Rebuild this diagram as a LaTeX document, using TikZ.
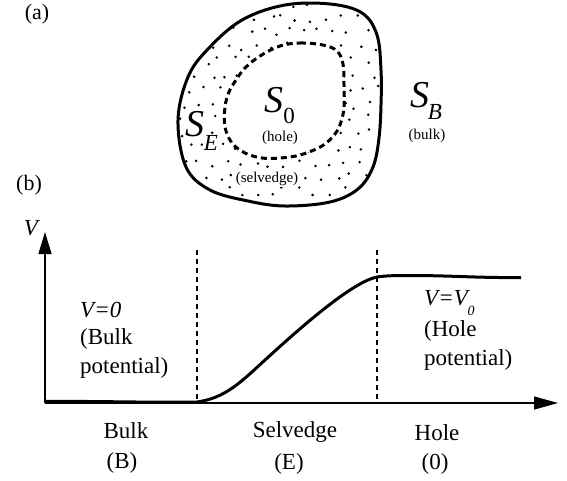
\documentclass[tikz,border=0pt]{standalone}
\usepackage{fontspec}
\setmainfont{Liberation Serif}
\usetikzlibrary{arrows.meta}
\tikzset{
  lbl/.style={inner sep=0pt,font=\fontsize{23}{28}\selectfont},
  small/.style={inner sep=1pt,font=\fontsize{15}{18}\selectfont},
  bigS/.style={inner sep=0pt,font=\fontsize{38}{40}\selectfont\itshape},
  subs/.style={inner sep=0pt,font=\fontsize{23}{26}\selectfont},
  thickline/.style={line width=3pt,line join=round},
  axisline/.style={line width=1.3pt,-{Triangle[length=22pt,width=13pt]}},
  vdash/.style={line width=1.2pt,dash pattern=on 5pt off 4pt},
  innerdash/.style={line width=3pt,dash pattern=on 6pt off 4pt},
}
\begin{document}
\begin{tikzpicture}[x=1pt,y=-1pt]
\useasboundingbox (0,0) rectangle (567,480);
\def\outerpath{plot[smooth cycle,tension=0.6] coordinates{(178,120) (188,77) (208,49) (242,20) (285,5) (330,4) (362,13) (377,35) (381,70) (381,105) (379,138) (373,167) (358,189) (330,202) (285,206) (248,201) (210,190) (186,167)}}
\def\innerpath{plot[smooth cycle,tension=0.6] coordinates{(280,46) (300,43) (323,45) (337,51) (343,64) (344,85) (344,107) (341,122) (335,134) (322,146) (300,155) (280,158) (262,158) (245,153) (232,143) (225,127) (225,107) (229,92) (236,80) (245,68) (260,56)}}
% stippled selvedge
\begin{scope}
  \clip \outerpath;
  \pgfmathsetseed{11}
  \foreach \i in {0,...,14}{
    \foreach \j in {0,...,14}{
      \pgfmathsetmacro\px{176+14.5*\i+4.5*rand+(mod(\j,2))*7}
      \pgfmathsetmacro\py{3+14.5*\j+4.5*rand}
      \fill (\px,\py) circle[radius=1.4pt];
    }
  }
\end{scope}
\fill[white] \innerpath;
\draw[innerdash] \innerpath;
\draw[thickline] \outerpath;
% labels top
\node[lbl,font=\fontsize{22}{26}\selectfont] (la) at (37,14) {(a)};
\node[lbl,font=\fontsize{22}{26}\selectfont] (lb) at (29,185) {(b)};
\node[bigS] (S0) at (274,100) {S};
\node[subs] (S0s) at (289,116) {0};
\node[small] (hole) at (280,138) {(hole)};
\node[bigS,fill=white,inner sep=1pt] (SE) at (195,124) {S};
\node[subs,font=\fontsize{23}{26}\selectfont\itshape,fill=white,inner sep=1pt] (SEs) at (211,143) {E};
\node[small,fill=white] (selv) at (267,179) {(selvedge)};
\node[bigS] (SB) at (420,95) {S};
\node[subs,font=\fontsize{23}{26}\selectfont\itshape] (SBs) at (435,112) {B};
\node[small] (bulk) at (427,136) {(bulk)};
% axes
\coordinate (O) at (45,403);
\coordinate (Ytip) at (45,232);
\coordinate (Xtip) at (558,403);
\draw[axisline] (O) -- (Ytip);
\draw[axisline,-{Triangle[length=24pt,width=13pt]}] (O) -- (Xtip);
\node[lbl,font=\fontsize{23}{26}\selectfont\itshape] (V) at (31,228) {V};
% dashed boundaries
\coordinate (d1t) at (197,250);
\coordinate (d1b) at (197,403);
\coordinate (d2t) at (377,250);
\coordinate (d2b) at (377,403);
\draw[vdash] (d1t) -- (d1b);
\draw[vdash] (d2t) -- (d2b);
% potential curve
\coordinate (c0) at (45,401.5);
\coordinate (c1) at (197,402);
\coordinate (c2) at (265,360);
\coordinate (c3) at (377,277);
\coordinate (c4) at (412,275.5);
\coordinate (c5) at (521,277.5);
\draw[thickline,line cap=butt] (c0) .. controls (100,401) and (150,402.8) .. (c1)
  .. controls (225,398) and (240,383) .. (c2)
  .. controls (300,328) and (352,282) .. (c3)
  .. controls (387,275.5) and (397,275.5) .. (c4)
  .. controls (450,275.5) and (480,278) .. (c5);
% region labels
\node[lbl,anchor=west,font=\fontsize{23}{28}\selectfont\itshape] (v0) at (80,310) {V=0};
\node[lbl,anchor=west] (bk1) at (80,339) {(Bulk};
\node[lbl,anchor=west] (bk2) at (80,368) {potential)};
\node[lbl,anchor=west,font=\fontsize{23}{28}\selectfont\itshape] (vv) at (424,298) {V=V};
\node[inner sep=0pt,font=\fontsize{14}{16}\selectfont\itshape] (vv0) at (471,311) {0};
\node[lbl,anchor=west] (ho1) at (424,331) {(Hole};
\node[lbl,anchor=west] (ho2) at (424,360) {potential)};
\node[lbl] (bB) at (126,431) {Bulk};
\node[lbl] (bB2) at (122,463) {(B)};
\node[lbl] (bE) at (295,432) {Selvedge};
\node[lbl] (bE2) at (289,464) {(E)};
\node[lbl] (bH) at (437,433) {Hole};
\node[lbl] (bH2) at (435,464) {(0)};
\end{tikzpicture}
\end{document}
